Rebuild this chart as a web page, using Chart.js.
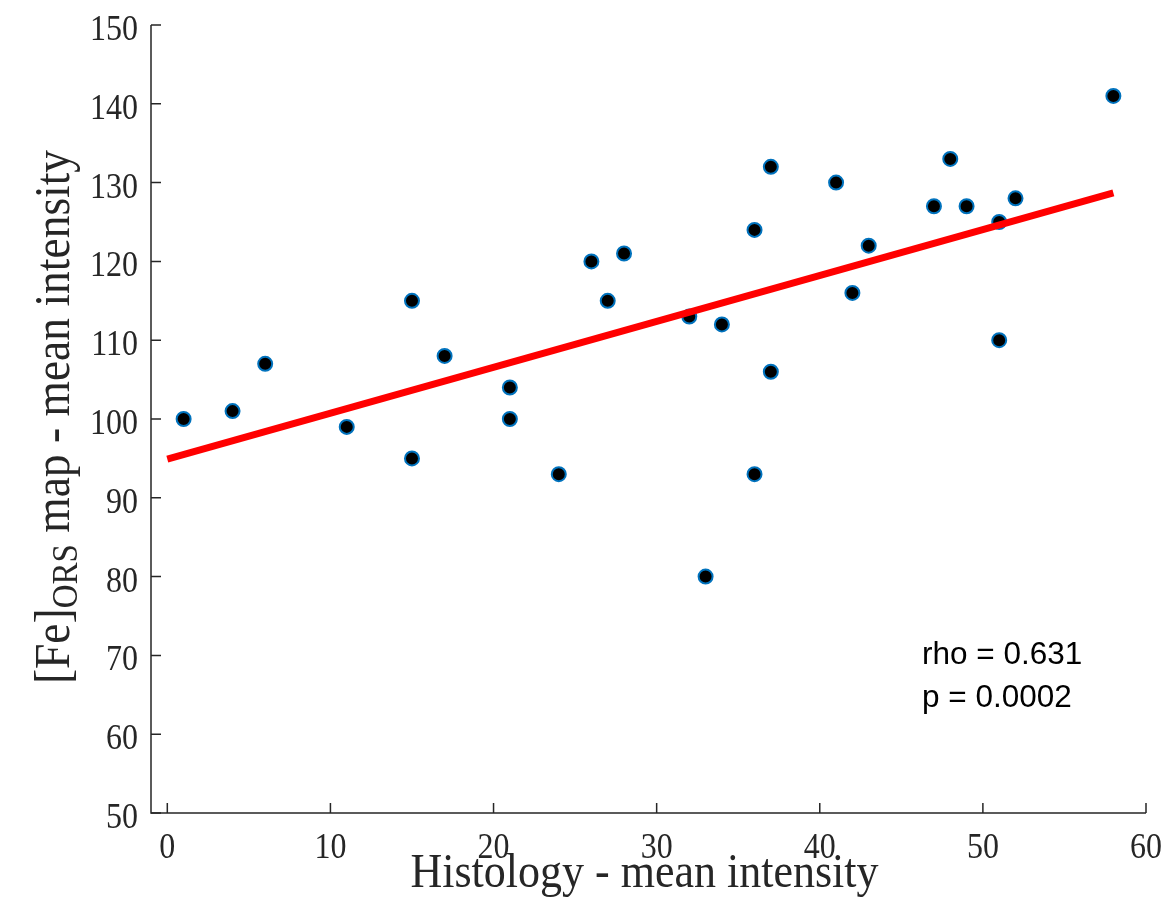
<!DOCTYPE html>
<html>
<head>
<meta charset="utf-8">
<script src="https://cdn.jsdelivr.net/npm/chart.js@4.4.1/dist/chart.umd.min.js"></script>
<style>
  html, body { margin: 0; padding: 0; background: #fff; }
  #wrap { width: 1170px; height: 923px; position: relative; }
</style>
</head>
<body>
<div id="wrap"><canvas id="c" width="1170" height="923"></canvas></div>
<script>
// ---- data ----
const histologyX = [1, 4, 6, 11, 15, 15, 17, 21, 21, 24, 26, 27, 28, 32, 33, 34, 36, 36, 37, 37, 41, 42, 43, 47, 48, 49, 51, 51, 52, 58];
const feMapY     = [100, 101, 107, 99, 115, 95, 108, 104, 100, 93, 120, 115, 121, 113, 80, 112, 124, 93, 132, 106, 130, 116, 122, 127, 133, 127, 125, 110, 128, 141];
const fitX = [0, 58];
const fitY = [94.9, 128.7];
const xTicks = [0, 10, 20, 30, 40, 50, 60];
const yTicks = [50, 60, 70, 80, 90, 100, 110, 120, 130, 140, 150];
const statsText = ['rho = 0.631', 'p = 0.0002'];
const xTitle = 'Histology - mean intensity';
const yTitleParts = ['[Fe]', 'ORS', ' map - mean intensity'];

const AXIS_COLOR = '#262626';
const SERIF = '"Liberation Serif", "Times New Roman", serif';
const SANS = '"Liberation Sans", Arial, sans-serif';
const STRETCH = 1.11;

const scatterPts = histologyX.map((x, i) => ({ x: x, y: feMapY[i] }));
const fitPts = fitX.map((x, i) => ({ x: x, y: fitY[i] }));

function stretchedText(ctx, str, x, y, align) {
  ctx.save();
  ctx.translate(x, y);
  ctx.scale(1, STRETCH);
  ctx.textAlign = align;
  ctx.textBaseline = 'alphabetic';
  ctx.fillText(str, 0, 0);
  ctx.restore();
}

const matlabAxes = {
  id: 'matlabAxes',
  afterDraw(chart) {
    const ctx = chart.ctx;
    const ca = chart.chartArea;
    const xs = chart.scales.x, ys = chart.scales.y;
    ctx.save();
    ctx.strokeStyle = AXIS_COLOR;
    ctx.lineWidth = 1.5;
    ctx.beginPath();
    ctx.moveTo(ca.left, ca.top);
    ctx.lineTo(ca.left, ca.bottom);
    ctx.lineTo(ca.right, ca.bottom);
    ctx.stroke();
    const tl = 10;
    ctx.beginPath();
    xTicks.forEach(v => {
      const px = xs.getPixelForValue(v);
      ctx.moveTo(px, ca.bottom);
      ctx.lineTo(px, ca.bottom - tl);
    });
    yTicks.forEach(v => {
      const py = ys.getPixelForValue(v);
      ctx.moveTo(ca.left, py);
      ctx.lineTo(ca.left + tl, py);
    });
    ctx.stroke();

    // tick labels
    ctx.fillStyle = AXIS_COLOR;
    ctx.font = '32px ' + SERIF;
    xTicks.forEach(v => {
      stretchedText(ctx, String(v), xs.getPixelForValue(v), ca.bottom + 45, 'center');
    });
    yTicks.forEach(v => {
      stretchedText(ctx, String(v), ca.left - 13, ys.getPixelForValue(v) + 15, 'right');
    });

    // x title
    ctx.font = '44px ' + SERIF;
    stretchedText(ctx, xTitle, (ca.left + ca.right) / 2 - 4, 887, 'center');

    // y title with subscript
    ctx.save();
    const cy = (ca.top + ca.bottom) / 2 - 2;
    ctx.translate(69, cy);
    ctx.rotate(-Math.PI / 2);
    ctx.scale(1, STRETCH);
    ctx.textAlign = 'left';
    ctx.textBaseline = 'alphabetic';
    const mainFont = '45.5px ' + SERIF;
    const subFont = '33px ' + SERIF;
    ctx.font = mainFont;
    const w0 = ctx.measureText(yTitleParts[0]).width;
    const w2 = ctx.measureText(yTitleParts[2]).width;
    ctx.font = subFont;
    const w1 = ctx.measureText(yTitleParts[1]).width;
    let sx = -(w0 + w1 + w2) / 2;
    ctx.font = mainFont;
    ctx.fillText(yTitleParts[0], sx, 0);
    sx += w0;
    ctx.font = subFont;
    ctx.fillText(yTitleParts[1], sx, 7);
    sx += w1;
    ctx.font = mainFont;
    ctx.fillText(yTitleParts[2], sx, 0);
    ctx.restore();

    // stats annotation
    ctx.fillStyle = '#000';
    ctx.font = '31.5px ' + SANS;
    ctx.textAlign = 'left';
    ctx.textBaseline = 'alphabetic';
    const ax = 922;
    ctx.fillText(statsText[0], ax, ys.getPixelForValue(68.9));
    ctx.fillText(statsText[1], ax, ys.getPixelForValue(63.45));
    ctx.restore();
  }
};

new Chart(document.getElementById('c'), {
  type: 'scatter',
  data: {
    datasets: [
      {
        type: 'line',
        label: 'fit',
        data: fitPts,
        borderColor: '#ff0000',
        borderWidth: 7,
        pointRadius: 0,
        fill: false,
        tension: 0,
        order: 0
      },
      {
        label: 'data',
        data: scatterPts,
        pointRadius: 7,
        pointHoverRadius: 7,
        pointBorderWidth: 2,
        pointBackgroundColor: '#000000',
        pointBorderColor: '#0072BD',
        showLine: false,
        order: 1
      }
    ]
  },
  plugins: [matlabAxes],
  options: {
    responsive: false,
    animation: false,
    devicePixelRatio: 1,
    layout: { padding: { top: 25, right: 24, left: 0, bottom: 0 } },
    plugins: { legend: { display: false }, tooltip: { enabled: false } },
    scales: {
      x: {
        type: 'linear',
        min: -1, max: 60,
        grid: { display: false, drawTicks: false },
        border: { display: false },
        afterBuildTicks: s => { s.ticks = xTicks.map(v => ({ value: v })); },
        afterFit: s => { s.height = 110; },
        ticks: { display: false }
      },
      y: {
        type: 'linear',
        min: 50, max: 150,
        grid: { display: false, drawTicks: false },
        border: { display: false },
        afterBuildTicks: s => { s.ticks = yTicks.map(v => ({ value: v })); },
        afterFit: s => { s.width = 151; },
        ticks: { display: false }
      }
    }
  }
});
</script>
</body>
</html>
